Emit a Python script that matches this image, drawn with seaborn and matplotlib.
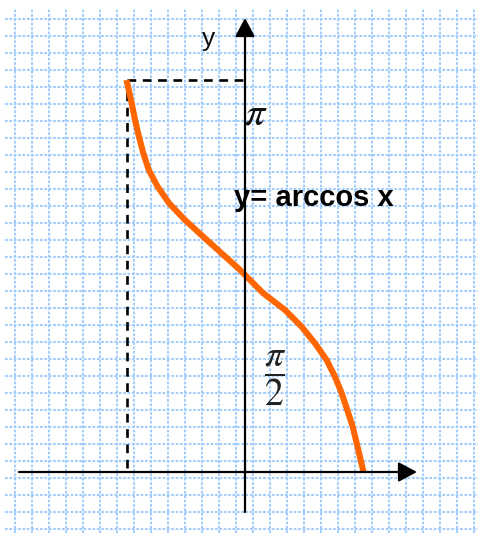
import numpy as np
import pandas as pd
import matplotlib
matplotlib.use("Agg")
import matplotlib.pyplot as plt
import seaborn as sns
from matplotlib.patches import ArrowStyle

# ---- data (x, y = arccos x, in radians) ----
curve_x = [-1.0, -0.956, -0.928, -0.895, -0.858, -0.812, -0.737, -0.640,
           -0.506, -0.352, -0.197, -0.042, 0.154, 0.338, 0.478, 0.591,
           0.689, 0.759, 0.816, 0.863, 0.909, 0.943, 0.976, 1.0]
curve_y = [3.1416, 2.954, 2.821, 2.687, 2.554, 2.420, 2.286, 2.153,
           2.019, 1.885, 1.752, 1.619, 1.432, 1.298, 1.164, 1.031,
           0.897, 0.764, 0.631, 0.497, 0.363, 0.230, 0.096, 0.0]
x_min, y_max = -1.0, np.pi
label_y = "y"
label_pi = r"$\pi$"
label_half = r"$\dfrac{\pi}{2}$"
label_func = "y= arccos x"

# ---- figure geometry (pixels) ----
W, H = 478, 533
X0, Y0 = 245, 472          # pixel of the origin
SX, SY = 118.5, 124.8      # pixels per unit


def px(xp, yp):
    return ((xp - X0) / SX, (Y0 - yp) / SY)


sns.set_theme(style="white")
plt.rcParams["font.family"] = ["Liberation Sans", "DejaVu Sans"]
plt.rcParams["mathtext.fontset"] = "stix"

fig = plt.figure(figsize=(W / 100, H / 100), dpi=100)
fig.patch.set_facecolor("white")

# background grid (pixel coordinates)
gx0, gy0 = 5, 8
gax = fig.add_axes([gx0 / W, 0, (W - gx0) / W, (H - gy0) / H])
gax.set_xlim(gx0, W)
gax.set_ylim(H, gy0)
gax.set_xticks(np.arange(15, W, 17))
gax.set_yticks(np.arange(19, H, 17))
gax.tick_params(length=0, labelbottom=False, labelleft=False)
for s in gax.spines.values():
    s.set_visible(False)
gax.grid(True, color="#a3cdfc", linewidth=1.5, linestyle=(0, (1.3, 0.8)))
gax.set_facecolor("white")

# main axes in data units
ax = fig.add_axes([0, 0, 1, 1])
ax.patch.set_alpha(0)

# dashed guides
dash = dict(color="black", lw=1.9, dashes=(3.3, 2.5))
ax.plot([x_min, x_min], [0.03, y_max], **dash)
ax.plot([x_min, 0], [y_max, y_max], **dash)

# axes with arrows
arr = dict(arrowstyle=ArrowStyle("-|>", head_length=0.75, head_width=0.4),
           mutation_scale=15, lw=1.6, color="black", shrinkA=0, shrinkB=0)
ax.annotate("", xy=px(245, 18), xytext=px(245, 512), arrowprops=arr)
ax.annotate("", xy=px(417, 472), xytext=px(19, 472), arrowprops=arr)

# curve
df = pd.DataFrame({"x": curve_x, "y": curve_y})
sns.lineplot(data=df, x="x", y="y", ax=ax, color="#ff6600", lw=4.4,
             sort=False, estimator=None, solid_capstyle="butt",
             solid_joinstyle="round")
ax.set_xlim(px(0, 0)[0], px(W, 0)[0])
ax.set_ylim(px(0, H)[1], px(0, 0)[1])
ax.axis("off")

# labels
ax.text(*px(209, 39), label_y, fontsize=19, ha="center", va="center", color="#111")
ax.text(*px(256, 114), label_pi, fontsize=29, ha="center", va="center", color="#111")
ax.text(*px(234, 198), label_func, fontsize=21, fontweight="bold",
        ha="left", va="center", color="black")
ax.text(*px(275, 378), label_half, fontsize=27, ha="center", va="center", color="#222")

fig.savefig("out.png", dpi=100)
